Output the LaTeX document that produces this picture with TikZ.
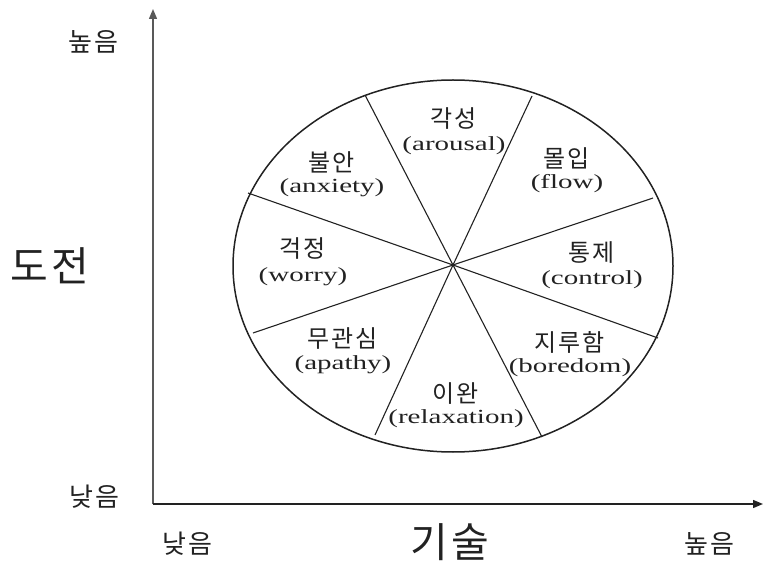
\documentclass[tikz,border=0pt]{standalone}
\usepackage{fontspec}
\setmainfont{Liberation Serif}
\newfontfamily\kr{Noto Sans CJK KR}[LetterSpace=8]
\newfontfamily\lat{Liberation Serif}[FakeStretch=1.45]
\usetikzlibrary{arrows.meta}
\definecolor{ink}{HTML}{222222}
\tikzset{
  kor/.style={font=\kr\fontsize{24}{26}\selectfont, inner sep=0pt, text=ink},
  eng/.style={font=\lat\fontsize{20}{22}\selectfont, inner sep=0pt, text=ink},
  axlab/.style={font=\kr\fontsize{26}{28}\selectfont, inner sep=0pt, text=ink},
  biglab/.style={font=\kr\fontsize{41}{44}\selectfont, inner sep=0pt, text=ink},
  spoke/.style={draw=ink, line width=1.1pt},
  rim/.style={draw=ink, line width=1.5pt},
  axis/.style={draw=ink, line width=1.4pt, -{Triangle[width=8pt,length=10pt]}}
}
\begin{document}
\begin{tikzpicture}[x={(1pt,0)}, y={(0,-1pt)}]
\useasboundingbox (0,0) rectangle (763,561);
% axes
\coordinate (O) at (153,504);
\coordinate (Ytop) at (153,9);
\coordinate (Xend) at (763,504);
\draw[axis, draw=black!65] (O) -- (Ytop);
\draw[axis] (O) -- (Xend);
% ellipse
\coordinate (C) at (453,265);
\draw[rim] (453,266) ellipse [x radius=220, y radius=186];
% spokes
\coordinate (p1) at (365,95);
\coordinate (q1) at (542,437);
\coordinate (p2) at (532,96);
\coordinate (q2) at (375,435);
\coordinate (p3) at (653,198);
\coordinate (q3) at (253,333);
\coordinate (p4) at (248,193);
\coordinate (q4) at (658,338);
\draw[spoke] (p1) -- (C) -- (q1);
\draw[spoke] (p2) -- (C) -- (q2);
\draw[spoke] (p3) -- (C) -- (q3);
\draw[spoke] (p4) -- (C) -- (q4);
% sector labels
\node[kor] (k1) at (454,119) {각성};
\node[eng] (e1) at (454,146) {(arousal)};
\node[kor] (k2) at (332,162) {불안};
\node[eng] (e2) at (332,188) {(anxiety)};
\node[kor] (k3) at (567,158) {몰입};
\node[eng] (e3) at (567,184) {(flow)};
\node[kor] (k4) at (303,249) {걱정};
\node[eng] (e4) at (303,277) {(worry)};
\node[kor] (k5) at (592,253) {통제};
\node[eng] (e5) at (592,280) {(control)};
\node[kor] (k6) at (343,339) {무관심};
\node[eng] (e6) at (343,365) {(apathy)};
\node[kor] (k7) at (570,342) {지루함};
\node[eng] (e7) at (570,368) {(boredom)};
\node[kor] (k8) at (456,394) {이완};
\node[eng] (e8) at (456,419) {(relaxation)};
% axis labels
\node[axlab] (yhigh) at (93,42) {높음};
\node[axlab] (ylow) at (94,497) {낮음};
\node[biglab] (ytitle) at (50,266) {도전};
\node[axlab] (xlow) at (187,544) {낮음};
\node[axlab] (xhigh) at (709,544) {높음};
\node[biglab] (xtitle) at (450,542) {기술};
\end{tikzpicture}
\end{document}
